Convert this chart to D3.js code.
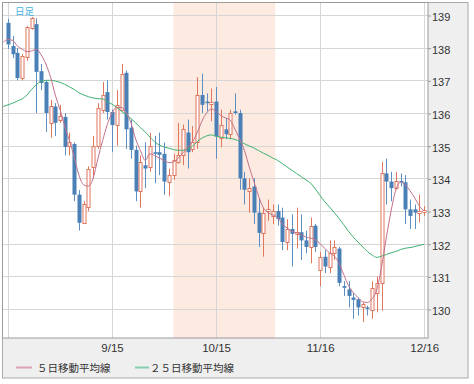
<!DOCTYPE html>
<html><head><meta charset="utf-8">
<script src="https://cdn.jsdelivr.net/npm/d3@7/dist/d3.min.js"></script>
<style>html,body{margin:0;padding:0;background:#fff;}svg{display:block;}</style>
</head><body><svg id="c" width="474" height="384"></svg>
<script>
// ---- data ----
const openP  = [138.76,138.05,137.84,137.07,137.72,138.6,138.72,137.28,136.95,135.7,136.2,135.8,135.88,135.0,135.05,133.5,132.64,133.13,134.35,135.0,136.1,136.64,136.03,135.63,136.1,137.23,135.55,134.87,133.6,134.4,134.35,134.8,134.8,134.75,133.9,134.1,134.5,134.72,135.4,134.9,135.1,136.55,136.35,136.28,136.35,135.25,135.5,135.35,136.05,136.0,134.0,133.6,133.75,132.95,132.33,133.0,132.85,133.0,132.8,132.05,132.45,132.3,132.35,132.1,131.9,132.55,131.2,131.6,131.3,131.7,131.85,130.7,130.6,130.35,130.3,130.05,130.05,129.97,130.5,130.8,134.15,133.9,133.7,133.92,133.88,133.05,133.05,132.95,132.97];
const highP  = [138.88,138.36,137.99,137.8,138.66,138.94,138.9,137.5,137.0,136.4,136.3,136.25,136.0,135.4,135.1,133.64,133.3,134.37,135.3,136.3,136.95,137.0,136.1,136.7,137.5,137.3,135.8,135.0,134.7,135.1,135.4,135.3,135.4,135.1,134.3,134.75,135.7,135.65,135.8,135.6,137.1,137.2,136.6,136.75,136.8,136.1,135.85,136.1,136.6,136.1,134.2,134.0,134.0,133.4,133.1,133.35,133.2,133.2,133.1,132.75,132.9,133.1,132.9,132.4,132.8,132.6,131.75,131.8,132.1,132.1,131.9,130.85,130.85,130.5,130.35,130.2,130.1,130.85,131.0,134.5,134.6,134.2,134.2,134.15,134.1,133.35,133.2,133.5,133.15];
const lowP   = [137.96,137.68,137.0,137.0,137.6,138.55,136.0,136.7,135.42,135.24,135.3,135.7,134.7,134.7,133.3,132.4,132.6,133.0,134.0,134.9,136.0,135.8,134.8,135.0,136.05,134.9,134.6,133.3,133.1,133.7,134.2,133.85,134.1,133.5,133.45,133.95,134.45,134.4,134.3,134.8,134.9,136.0,136.05,135.75,134.6,134.95,135.2,135.2,135.95,133.65,133.2,132.95,132.6,131.9,131.6,132.7,132.6,132.55,131.8,131.8,131.3,131.85,131.5,131.7,131.4,131.75,130.7,131.1,131.1,131.5,130.7,130.4,130.05,129.7,129.8,129.6,129.8,129.7,129.9,129.95,133.2,133.3,133.65,133.75,132.6,132.45,132.45,132.65,132.85];
const closeP = [138.1,137.8,137.07,137.75,138.63,138.9,137.26,136.92,136.0,136.2,135.7,135.9,134.96,135.1,133.5,132.64,133.2,134.3,135.0,136.15,136.55,136.03,135.63,136.25,137.2,135.5,134.87,133.6,134.5,134.3,135.0,134.75,134.72,133.9,134.1,134.55,134.72,135.5,134.8,135.1,136.55,136.25,136.3,136.35,135.28,135.63,135.35,136.0,136.0,134.0,133.65,133.7,132.95,132.33,132.95,133.05,133.0,132.75,132.05,132.45,132.3,132.35,132.1,131.9,132.55,131.9,131.6,131.3,131.7,131.9,130.8,130.65,130.4,130.28,130.05,130.15,130.02,130.65,130.8,134.17,133.9,133.7,133.93,133.88,133.05,132.85,132.95,133.0,133.02];
// moving averages, index -1 .. 88
const ma5  = [138.17,138.25,138.22,138.05,137.95,137.88,137.9,137.95,137.78,137.5,137.1,136.55,136.1,135.6,135.15,134.65,134.1,133.8,133.76,134.0,134.6,135.15,135.65,136.0,136.17,136.17,136.0,135.7,135.2,134.85,134.55,134.75,134.7,134.62,134.55,134.48,134.5,134.62,134.78,134.95,135.12,135.4,135.75,136.0,136.12,136.05,135.92,135.85,135.78,135.5,135.2,134.85,134.35,133.9,133.45,133.1,132.95,132.88,132.8,132.6,132.48,132.38,132.33,132.28,132.2,132.17,132.12,132.0,131.85,131.72,131.62,131.4,131.05,130.72,130.5,130.35,130.22,130.2,130.32,130.6,131.3,132.2,133.0,133.65,133.88,133.8,133.62,133.4,133.15,133.0];
const ma25 = [136.2,136.25,136.3,136.37,136.43,136.55,136.72,136.87,136.97,137.0,137.0,136.98,136.94,136.88,136.8,136.72,136.62,136.55,136.5,136.46,136.44,136.43,136.35,136.27,136.17,136.05,135.95,135.83,135.7,135.55,135.42,135.26,135.12,135.02,134.96,134.92,134.88,134.86,134.86,134.9,134.98,135.12,135.23,135.3,135.33,135.29,135.26,135.24,135.22,135.19,135.13,135.06,134.99,134.93,134.85,134.77,134.7,134.62,134.55,134.45,134.35,134.25,134.15,134.05,133.95,133.85,133.67,133.47,133.28,133.12,132.95,132.77,132.58,132.38,132.2,132.05,131.9,131.76,131.65,131.58,131.62,131.67,131.72,131.76,131.82,131.86,131.88,131.91,131.95,131.98];
const yTicks = [130,131,132,133,134,135,136,137,138,139];
const xTickIdx = [0,22,44,66,88];
const xTickLabels = ["","9/15","10/15","11/16","12/16"];
const shadeRange = [35.0, 56.5];
const legendLabels = ["５日移動平均線","２５日移動平均線"];
const periodLabel = "日足";

// ---- layout ----
const svg = d3.select("#c");
const P = {l:2.5, t:2.5, r:428, b:338};
const x = d3.scaleLinear().domain([0,88]).range([8,424.2]);
const y = d3.scaleLinear().domain([130,139]).range([309,15]);
const upC = "#e0775c", dnC = "#4b80b7", dnW = "#5d8fc2";
const c5 = "#c2708a", c25 = "#3fb070";

// outer frame + grey panels
svg.append("rect").attr("x",2.5).attr("y",2.5).attr("width",465.5).attr("height",375.5)
  .attr("fill","#efefef").attr("stroke","#a9a9a9");
svg.append("rect").attr("x",P.l).attr("y",P.t).attr("width",P.r-P.l).attr("height",P.b-P.t)
  .attr("fill","#fff");
svg.append("defs").append("clipPath").attr("id","cp").append("rect")
  .attr("x",P.l).attr("y",P.t).attr("width",P.r-P.l).attr("height",P.b-P.t);
const g = svg.append("g").attr("clip-path","url(#cp)");

// shaded period
g.append("rect").attr("x",x(shadeRange[0])).attr("y",P.t)
  .attr("width",x(shadeRange[1])-x(shadeRange[0])).attr("height",P.b-P.t).attr("fill","#fdeae0");

// grid
g.selectAll(".hg").data(yTicks).join("line").attr("x1",P.l).attr("x2",P.r)
  .attr("y1",d=>Math.round(y(d))+0.5).attr("y2",d=>Math.round(y(d))+0.5).attr("stroke","#d6d6d6");
g.selectAll(".vg").data(xTickIdx).join("line").attr("y1",P.t).attr("y2",P.b)
  .attr("x1",d=>Math.round(x(d))+0.5).attr("x2",d=>Math.round(x(d))+0.5).attr("stroke","#d6d6d6");

// candles
const idx = d3.range(openP.length);
const cg = g.append("g");
idx.forEach(i=>{
  const up = closeP[i] >= openP[i];
  const cx = Math.round(x(i))+0.5;
  cg.append("line").attr("x1",cx).attr("x2",cx).attr("y1",y(highP[i])).attr("y2",y(lowP[i]))
    .attr("stroke", up?upC:dnW).attr("stroke-width",1);
  const top = y(Math.max(openP[i],closeP[i])), bot = y(Math.min(openP[i],closeP[i]));
  if (up) {
    cg.append("rect").attr("x",cx-1.5).attr("y",Math.round(top)+0.5).attr("width",3)
      .attr("height",Math.max(1,Math.round(bot)-Math.round(top))).attr("fill","#fff").attr("stroke",upC);
  } else {
    cg.append("rect").attr("x",cx-2).attr("y",top).attr("width",4)
      .attr("height",Math.max(1.5,bot-top)).attr("fill",dnC);
  }
});

// moving averages
const line = d3.line().x((d,i)=>x(i-1)).y(d=>y(d)).curve(d3.curveMonotoneX);
g.append("path").attr("d",line(ma25)).attr("fill","none").attr("stroke",c25).attr("stroke-width",1);
g.append("path").attr("d",line(ma5)).attr("fill","none").attr("stroke",c5).attr("stroke-width",1);

// plot border
svg.append("rect").attr("x",P.l).attr("y",P.t).attr("width",P.r-P.l).attr("height",P.b-P.t)
  .attr("fill","none").attr("stroke","#9a9a9a");

// period label
svg.append("text").attr("x",15).attr("y",15).text(periodLabel)
  .attr("font-family","'Noto Sans CJK JP'").attr("font-size",9.5).attr("fill","#45b0e0");

// y axis
const ya = svg.append("g").attr("transform",`translate(${P.r},0.5)`)
  .call(d3.axisRight(y).tickValues(yTicks).tickSize(3).tickPadding(1).tickFormat(d3.format("d")));
ya.select(".domain").remove();
ya.selectAll("line").attr("stroke","#999");
ya.selectAll("text").attr("font-family","'Liberation Sans',Arial").attr("font-size",11).attr("fill","#333").attr("dy","0.45em");

// x axis labels
const xa = svg.append("g").attr("transform",`translate(0,${P.b})`)
  .call(d3.axisBottom(x).tickValues(xTickIdx).tickSize(0).tickPadding(6).tickFormat((d,i)=>xTickLabels[i]));
xa.select(".domain").remove();
xa.selectAll("text").attr("font-family","'Liberation Sans',Arial").attr("font-size",11.5).attr("fill","#333");

// legend
const lg = svg.append("g");
[[16,32,37,"#dba3b4"],[135,149,150,"#86cfae"]].forEach((p,i)=>{
  lg.append("line").attr("x1",p[0]).attr("x2",p[1]).attr("y1",367.5).attr("y2",367.5).attr("stroke",p[3]).attr("stroke-width",2);
  lg.append("text").attr("x",p[2]).attr("y",372).text(legendLabels[i])
    .attr("font-family","'Noto Sans CJK JP'").attr("font-size",10.5).attr("fill","#333");
});
</script></body></html>
